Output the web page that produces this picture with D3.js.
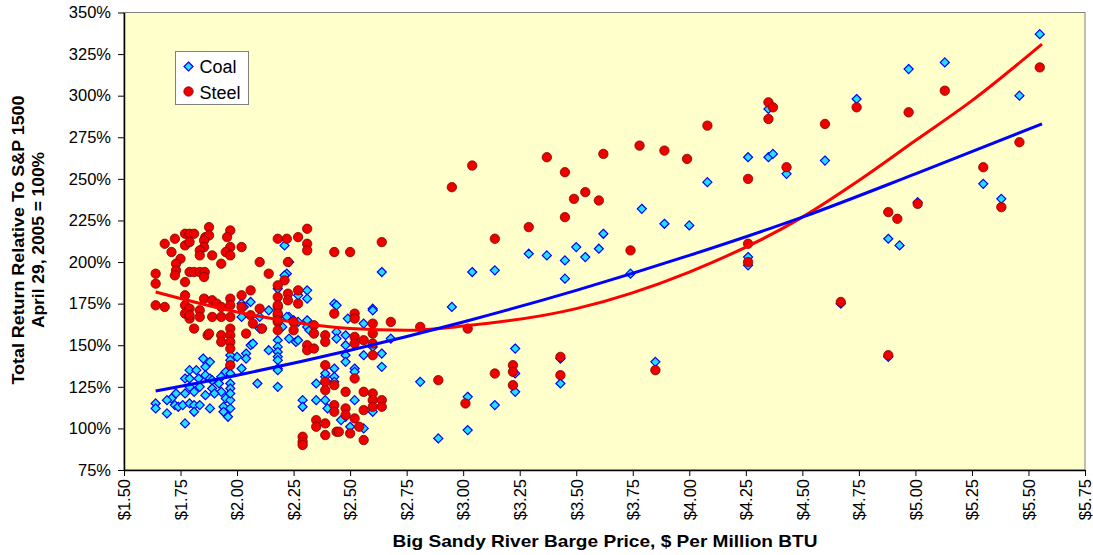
<!DOCTYPE html>
<html>
<head>
<meta charset="utf-8">
<script src="https://cdn.jsdelivr.net/npm/d3@7"></script>
<style>
body { margin: 0; background: #ffffff; }
svg text { font-family: Arial, "Liberation Sans", sans-serif; }
</style>
</head>
<body>
<div id="chart"></div>
<script>
// tick values
var xTicks = [1.50, 1.75, 2.00, 2.25, 2.50, 2.75, 3.00, 3.25, 3.50, 3.75, 4.00, 4.25, 4.50, 4.75, 5.00, 5.25, 5.50, 5.75];
var yTicks = [75, 100, 125, 150, 175, 200, 225, 250, 275, 300, 325, 350];

// [barge price $, total return %]
var coal = [
  [5.55,337],[5.13,320],[4.97,316],[4.74,298],[5.46,300],[4.35,292],[4.26,263],[4.35,263],[4.37,265],[4.43,253],
  [4.60,261],[4.08,248],[5.30,247],[5.38,238],[5.01,236],[4.88,214],[4.93,210],[4.26,203],[4.26,198],[4.67,175],[4.88,143],
  [3.79,232],[3.89,223],[4.00,222],[3.62,217],[3.60,208],[3.50,209],[3.54,203],[3.45,201],[3.37,204],[3.29,205],
  [3.45,190],[3.14,195],[3.04,194],[2.95,173],[3.74,193],[3.23,148],[3.23,133],[3.23,122],[3.43,142],[3.43,127],
  [2.81,128],[3.02,119],[3.14,114],[3.02,99],[2.89,94],[3.85,140],
  [2.06,150],[2.14,147],[2.04,145],[2.00,143],[2.04,142],[2.02,136],[1.97,144],[1.97,141],[1.85,142],[1.88,140],
  [1.86,137],[1.79,135],[1.82,135],[1.77,130],[1.79,130],[1.86,132],[1.88,130],[1.93,131],[1.95,134],[1.97,133],
  [2.09,127],[1.97,127],[1.97,124],[1.92,127],[1.89,124],[1.835,125],[1.86,120],[1.81,122],[1.79,125],[1.77,121],
  [1.73,121],[1.71,118],[1.69,117],[1.64,115],[1.64,112],[1.69,109],[1.725,114],[1.74,113],[1.76,114],[1.79,115],
  [1.81,114],[1.835,114],[1.81,110],[1.88,112],[1.94,113],[1.97,112],[1.94,110],[1.96,107],[1.77,103],[1.95,118],
  [1.93,122],[1.90,121],[1.97,117],[1.97,121],[1.89,129],[1.83,130],
  [2.02,175],[2.06,176],[2.10,167],[2.11,160],[2.02,167],[2.14,171],[2.03,173],[2.23,167],[2.20,161],[2.07,151],
  [2.18,153],[2.18,149],[2.18,146],[2.18,143],[2.18,141],[2.18,136],[2.18,125],[2.23,154],[2.26,152],[2.25,165],
  [2.29,117],[2.29,113],[2.35,127],[2.35,117],[2.31,161],
  [2.21,210],[2.22,193],[2.21,192],[2.18,184],[2.31,183],[2.31,178],[2.27,180],[2.22,167],[2.43,175],[2.52,167],
  [2.56,163],[2.60,172],[2.64,194],[2.27,164],[2.31,165],[2.49,166],[2.23,200],
  [2.44,174],[2.60,171],[2.10,160],[2.18,135],[2.27,153],[2.32,159],[2.44,158],[2.44,154],[2.48,156],[2.48,150],
  [2.48,144],[2.48,140],[2.56,144],[2.52,136],[2.52,134],[2.64,145],[2.64,137],[2.68,154],[2.43,136],[2.43,131],
  [2.43,128],[2.39,131],[2.39,117],[2.52,117],[2.48,107],[2.60,110],[2.56,100],[2.50,101],[2.46,105],[2.40,112],
  [2.39,133],[2.60,149]
];

var steel = [
  [5.55,317],[5.46,272],[5.38,233],[5.30,257],[5.13,303],[5.01,235],[4.97,290],[4.92,226],[4.88,230],[4.67,176],
  [4.74,293],[4.60,283],[4.43,257],[4.35,296],[4.37,293],[4.35,286],[4.26,250],[4.26,211],[4.26,200],[4.08,282],[4.88,144],
  [3.04,258],[2.95,245],[3.37,263],[3.45,254],[3.62,265],[3.49,238],[3.54,242],[3.60,237],[3.45,227],[3.29,221],
  [3.14,214],[3.74,207],[3.89,267],[3.99,262],[3.78,270],[2.81,161],[3.02,160],[2.89,129],[3.14,133],[3.22,138],
  [3.22,134],[3.22,126],[3.01,115],[3.43,143],[3.43,132],[3.85,135],
  [1.876,221],[1.97,219],[1.77,217],[1.79,217],[1.81,217],[1.86,215],[1.876,216],[1.956,215],[1.725,214],[1.68,211],
  [1.77,210],[1.79,212],[1.854,213],[1.854,209],[1.835,207],[1.97,209],[2.02,209],[1.95,206],[1.97,204],[1.71,206],
  [1.835,204],[1.89,204],[1.75,202],[1.73,199],[1.93,199],[2.10,200],[1.73,195],[1.79,194],[1.81,194],[1.835,194],
  [1.857,194],[1.725,192],[1.854,191],[1.64,193],[1.77,188],[1.64,187],[2.14,193],[2.06,183],[2.02,180],[1.77,180],
  [1.854,178],[1.89,177],[1.97,178],[1.64,174],[1.68,173],[1.77,174],[1.79,172],[1.835,171],[1.91,175],[1.93,173],
  [1.97,174],[2.02,173],[2.10,172],[1.77,169],[1.79,166],[1.835,167],[1.89,167],[1.93,167],[1.97,167],[2.06,168],
  [1.81,160],[1.87,156],[1.93,156],[1.97,160],[1.97,156],[2.04,157],
  [2.31,220],[2.18,214],[2.22,214],[2.27,215],[2.31,211],[2.31,207],[2.43,206],[2.50,206],[2.64,212],[2.225,200],
  [2.21,189],[2.18,186],[2.18,179],[2.225,181],[2.225,177],[2.27,183],[2.27,175],[2.18,173],[2.18,168],[2.18,164],
  [2.18,159],[2.25,164],[2.25,159],[2.34,162],[2.34,157],[2.39,156],[2.43,169],[2.52,169],[2.52,166],[2.60,163],
  [2.60,157],[2.68,164],[2.52,155],[2.56,153],
  [2.39,152],[2.52,151],[2.60,151],[2.60,144],[2.31,150],[2.31,147],[2.34,148],
  [2.39,138],[2.39,128],[2.39,123],[2.43,126],[2.52,130],[2.48,122],[2.56,122],[2.60,121],[2.60,117],[2.60,113],
  [2.64,117],[2.64,113],[2.43,114],[2.43,110],[2.48,112],[2.48,108],[2.56,111],[2.52,106],[2.35,105],[2.35,101],
  [2.39,103],[2.54,101],[2.44,98],[2.45,98],[2.50,97],[2.39,96],[2.56,93],[2.29,95],[2.29,92],[2.29,90],
  [1.97,138],[1.93,152],[1.97,152],[1.97,148],[1.876,157],[2.11,160],[2.18,174],[2.18,169],[2.18,165],[2.07,163],[1.79,168]
];

// trend lines
var coalTrendX = [1.64, 2.0, 2.5, 3.0, 3.5, 4.0, 4.5, 5.0, 5.56];
var coalTrendY = [122.5, 132, 147, 164, 183, 204, 227, 253, 283];
var steelTrendX = [1.64, 2.0, 2.5, 2.75, 3.0, 3.5, 4.0, 4.5, 4.75, 5.0, 5.25, 5.56];
var steelTrendY = [182, 170, 160, 159, 161.5, 172, 194, 227, 249, 273, 297, 331];

var seriesNames = ["Coal", "Steel"];

var margin = {top: 12.5, right: 8, bottom: 85, left: 124};
var width = 1093 - margin.left - margin.right;
var height = 555 - margin.top - margin.bottom;

var x = d3.scaleLinear().domain([1.5, 5.75]).range([0, width]);
var y = d3.scaleLinear().domain([75, 350]).range([height, 0]);

var svg = d3.select("#chart").append("svg")
    .attr("width", 1093)
    .attr("height", 555)
  .append("g")
    .attr("transform", "translate(" + margin.left + "," + margin.top + ")");

// plot area
svg.append("rect")
    .attr("width", width)
    .attr("height", height)
    .attr("fill", "#FFFFCC")
    .attr("stroke", "#808080")
    .attr("stroke-width", 1);

// coal diamonds
var diamond = d3.symbol().type(d3.symbolDiamond2).size(52);
svg.append("g").selectAll("path")
    .data(coal)
    .enter().append("path")
    .attr("d", diamond)
    .attr("transform", function (d) { return "translate(" + x(d[0]) + "," + y(d[1]) + ")"; })
    .attr("fill", "#22E0FF")
    .attr("stroke", "#0000FF")
    .attr("stroke-width", 1.2);

// steel circles
svg.append("g").selectAll("circle")
    .data(steel)
    .enter().append("circle")
    .attr("cx", function (d) { return x(d[0]); })
    .attr("cy", function (d) { return y(d[1]); })
    .attr("r", 4.7)
    .attr("fill", "#EE0000")
    .attr("stroke", "#800000")
    .attr("stroke-width", 0.8);

// trend lines
var trend = d3.line()
    .x(function (d) { return x(d[0]); })
    .y(function (d) { return y(d[1]); })
    .curve(d3.curveMonotoneX);

svg.append("path")
    .datum(d3.zip(steelTrendX, steelTrendY))
    .attr("d", trend)
    .attr("fill", "none")
    .attr("stroke", "#FF0000")
    .attr("stroke-width", 3);

svg.append("path")
    .datum(d3.zip(coalTrendX, coalTrendY))
    .attr("d", trend)
    .attr("fill", "none")
    .attr("stroke", "#0000FF")
    .attr("stroke-width", 3);

// axes
var yAxis = svg.append("g")
    .call(d3.axisLeft(y).tickValues(yTicks).tickSize(6).tickPadding(7).tickSizeOuter(0)
      .tickFormat(function (d) { return d + "%"; }));
yAxis.selectAll("text").style("font-size", "16.5px").attr("fill", "#000");

var xAxis = svg.append("g")
    .attr("transform", "translate(0," + height + ")")
    .call(d3.axisBottom(x).tickValues(xTicks).tickSize(6).tickSizeOuter(0)
      .tickFormat(function (d) { return "$" + d.toFixed(2); }));
xAxis.selectAll("text")
    .style("font-size", "16.5px")
    .style("text-anchor", "end")
    .attr("fill", "#000")
    .attr("transform", "rotate(-90)")
    .attr("x", -9)
    .attr("y", 0)
    .attr("dy", "0.35em");
svg.selectAll(".domain").attr("stroke", "#000").attr("stroke-width", 1.5);

// axis titles
svg.append("text")
    .attr("x", 605 - margin.left)
    .attr("y", 547 - margin.top)
    .attr("text-anchor", "middle")
    .attr("textLength", 425)
    .attr("lengthAdjust", "spacingAndGlyphs")
    .style("font-size", "17px")
    .style("font-weight", "bold")
    .text("Big Sandy River Barge Price, $ Per Million BTU");

var yTitle = svg.append("text")
    .attr("transform", "translate(" + (24 - margin.left) + "," + (240 - margin.top) + ") rotate(-90)")
    .attr("text-anchor", "middle")
    .style("font-size", "17px")
    .style("font-weight", "bold");
yTitle.append("tspan").attr("x", 0).attr("y", 0)
    .attr("textLength", 289).attr("lengthAdjust", "spacingAndGlyphs")
    .text("Total Return Relative To S&P 1500");
yTitle.append("tspan").attr("x", 0).attr("y", 20)
    .attr("textLength", 176).attr("lengthAdjust", "spacingAndGlyphs")
    .text("April 29, 2005 = 100%");

// legend
var legend = svg.append("g")
    .attr("transform", "translate(" + (175.5 - margin.left) + "," + (51.5 - margin.top) + ")");
legend.append("rect")
    .attr("width", 73)
    .attr("height", 53)
    .attr("fill", "#FFFFFF")
    .attr("stroke", "#808080");
legend.append("path")
    .attr("d", diamond)
    .attr("transform", "translate(13,15)")
    .attr("fill", "#22E0FF")
    .attr("stroke", "#0000FF")
    .attr("stroke-width", 1.2);
legend.append("circle")
    .attr("cx", 13).attr("cy", 40).attr("r", 4.7)
    .attr("fill", "#EE0000").attr("stroke", "#800000").attr("stroke-width", 0.8);
legend.selectAll("text.lbl")
    .data(seriesNames)
    .enter().append("text")
    .attr("class", "lbl")
    .attr("x", 24)
    .attr("y", function (d, i) { return 21 + i * 26; })
    .style("font-size", "18px")
    .text(function (d) { return d; });
</script>
</body>
</html>
